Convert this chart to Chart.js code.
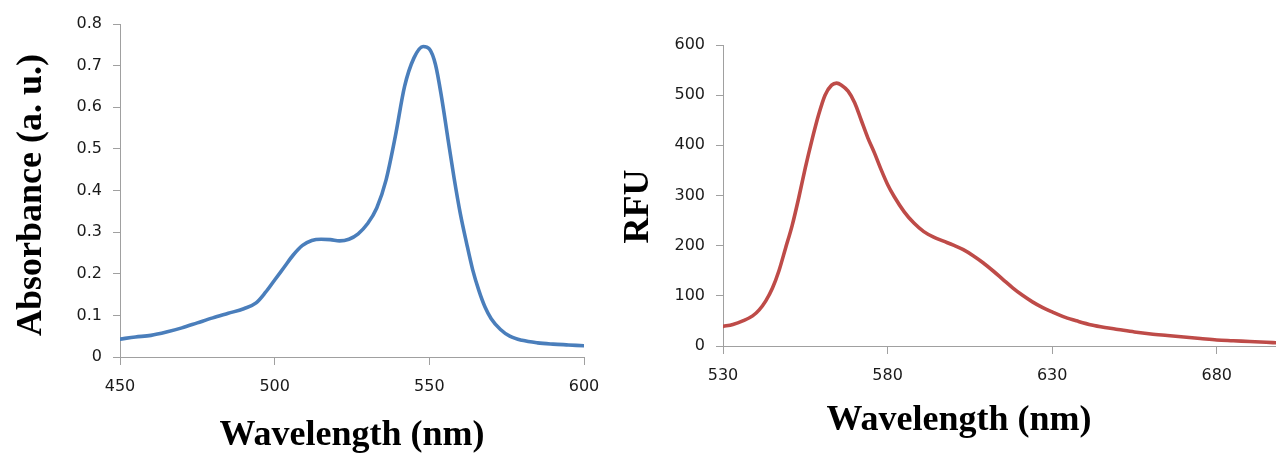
<!DOCTYPE html>
<html><head><meta charset="utf-8">
<script src="https://cdn.jsdelivr.net/npm/chart.js"></script>
<style>
html,body{margin:0;padding:0;background:#fff;overflow:hidden;width:1276px;height:453px;}
#a{position:absolute;left:0;top:0;width:630px;height:453px;}
#b{position:absolute;left:610px;top:0;width:666px;height:453px;}
</style></head><body>
<div id="a"><canvas id="c1" width="630" height="453"></canvas></div>
<div id="b"><canvas id="c2" width="666" height="453"></canvas></div>
<script>
// ---- Absorbance spectrum (left) ----
const absWavelength = [450,455,460,465,470,475,480,485,490,494,497,500,503,506,509,512,515,518,521,524,527,530,533,536,539,542,545,548,550,552,554,556,558,560,562,564,566,568,570,573,576,580,585,590,595,600];
const absValues     = [0.043,0.048,0.052,0.060,0.070,0.082,0.094,0.105,0.116,0.130,0.155,0.185,0.215,0.245,0.268,0.280,0.283,0.282,0.279,0.283,0.296,0.320,0.358,0.425,0.530,0.650,0.718,0.746,0.740,0.702,0.622,0.525,0.430,0.345,0.275,0.210,0.160,0.120,0.092,0.066,0.050,0.040,0.034,0.031,0.029,0.027];
const absXTicks = [450,500,550,600];
const absYTicks = [0,0.1,0.2,0.3,0.4,0.5,0.6,0.7,0.8];
const absXTitle = 'Wavelength (nm)';
const absYTitle = 'Absorbance (a. u.)';

// ---- Fluorescence spectrum (right) ----
const rfuWavelength = [530,533,536,539,541,543,545,547,549,551,553,555,557,559,561,563,564.5,566,568,570,572,574,576,578,580,582,585,588,591,594,597,600,603,606,609,612,615,618,621,624,627,630,634,638,642,646,650,655,660,665,670,675,680,685,690,695,698];
const rfuValues     = [39,43,50,60,72,90,115,150,195,240,295,355,410,460,500,520,524,520,508,485,450,415,385,352,322,298,268,245,228,217,209,201,192,180,166,150,133,116,101,88,77,68,57,49,42,37,33,28,24,21,18,15,12,10.5,9,7.5,6.5];
const rfuXTicks = [530,580,630,680];
const rfuYTicks = [0,100,200,300,400,500,600];
const rfuXTitle = 'Wavelength (nm)';
const rfuYTitle = 'RFU';

const tickFont = {family:'"DejaVu Sans", Verdana, sans-serif', size:16};
const tickColor = '#1a1a1a';
const axisColor = '#a0a0a0';

const titlePlugin = {
  id:'axisTitles',
  afterDraw(chart, args, opts){
    const ctx = chart.ctx;
    ctx.save();
    ctx.fillStyle = '#000';
    ctx.font = 'bold 36px "Liberation Serif", "Times New Roman", serif';
    ctx.textBaseline = 'alphabetic';
    ctx.textAlign = 'center';
    ctx.fillText(opts.x.text, opts.x.cx, opts.x.base);
    ctx.translate(opts.y.base, opts.y.cy);
    ctx.rotate(-Math.PI/2);
    ctx.fillText(opts.y.text, 0, 0);
    ctx.restore();
  }
};

function makeChart(id, xs, ys, color, xmin, xmax, xt, ymin, ymax, yt, yw, xh, pad, titles){
  const data = xs.map((x,i)=>({x:x, y:ys[i]}));
  return new Chart(document.getElementById(id), {
    type:'line',
    data:{datasets:[{data:data, borderColor:color, borderWidth:3.6, pointRadius:0, fill:false,
      cubicInterpolationMode:'monotone', borderCapStyle:'round', borderJoinStyle:'round'}]},
    options:{
      responsive:false, animation:false, devicePixelRatio:1,
      layout:{padding:pad},
      plugins:{legend:{display:false}, tooltip:{enabled:false}, axisTitles:titles},
      scales:{
        x:{type:'linear', min:xmin, max:xmax,
          afterBuildTicks:s=>{s.ticks = xt.map(v=>({value:v}));},
          afterFit:s=>{s.height = xh;},
          grid:{drawOnChartArea:false, drawTicks:true, tickLength:8, color:axisColor, lineWidth:1},
          border:{display:true, color:axisColor, width:1},
          ticks:{font:tickFont, color:tickColor, padding:12, maxRotation:0, callback:v=>String(v)}},
        y:{type:'linear', min:ymin, max:ymax,
          afterBuildTicks:s=>{s.ticks = yt.map(v=>({value:v}));},
          afterFit:s=>{s.width = yw;},
          grid:{drawOnChartArea:false, drawTicks:true, tickLength:7, color:axisColor, lineWidth:1},
          border:{display:true, color:axisColor, width:1},
          ticks:{font:tickFont, color:tickColor, padding:11, callback:v=>String(v)}}
      }
    },
    plugins:[titlePlugin]
  });
}

makeChart('c1', absWavelength, absValues, '#4A7EBB', 450, 600, absXTicks, 0, 0.8, absYTicks, 120, 96,
  {left:0, top:24, right:46, bottom:0},
  {x:{text:absXTitle, cx:352, base:445}, y:{text:absYTitle, cy:195, base:40.5}});
makeChart('c2', rfuWavelength, rfuValues, '#BE4B48', 530, 698, rfuXTicks, 0, 600, rfuYTicks, 113, 107,
  {left:0, top:45, right:0, bottom:0},
  {x:{text:rfuXTitle, cx:349, base:430}, y:{text:rfuYTitle, cy:206.5, base:38}});
</script>
</body></html>
